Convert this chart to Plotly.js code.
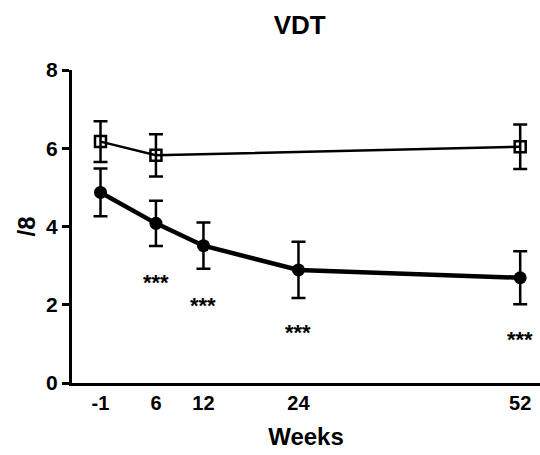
<!DOCTYPE html>
<html><head><meta charset="utf-8">
<script src="https://cdn.plot.ly/plotly-3.0.1.min.js"></script>
<style>html,body{margin:0;padding:0;background:#fff}#chart{width:540px;height:455px}</style>
</head><body><div id="chart"></div>
<script>
const weeks = [-1, 6, 12, 24, 52];
const controlWeeks = [-1, 6, 52];
const controlMean = [6.17, 5.82, 6.04];
const controlErr = [0.52, 0.54, 0.57];
const treatedMean = [4.87, 4.08, 3.51, 2.89, 2.69];
const treatedErr = [0.61, 0.58, 0.59, 0.72, 0.68];
const sigWeeks = [6, 12, 24, 52];
const sigLabel = ['***', '***', '***', '***'];
const sigY = [2.58, 1.99, 1.28, 1.12];
const tickLabels = ['-1', '6', '12', '24', '52'];

const font = 'Liberation Sans, Arial, sans-serif';
const traces = [
  {
    x: controlWeeks, y: controlMean, type: 'scatter', mode: 'lines+markers',
    line: {color: '#000', width: 2.5},
    marker: {symbol: 'square-open', size: 11, color: '#000', line: {width: 2.5, color: '#000'}},
    error_y: {type: 'data', array: controlErr, visible: true, color: '#000', thickness: 2.5, width: 7},
    cliponaxis: false, showlegend: false
  },
  {
    x: weeks, y: treatedMean, type: 'scatter', mode: 'lines+markers',
    line: {color: '#000', width: 4.5},
    marker: {symbol: 'circle', size: 13, color: '#000'},
    error_y: {type: 'data', array: treatedErr, visible: true, color: '#000', thickness: 2.5, width: 7},
    cliponaxis: false, showlegend: false
  }
];
const annotations = sigWeeks.map((w, i) => ({
  x: w, y: sigY[i], xref: 'x', yref: 'y', text: '<b>' + sigLabel[i] + '</b>', showarrow: false,
  font: {family: font, size: 22, color: '#000'}
}));
const layout = {
  width: 540, height: 455,
  margin: {l: 72, r: 0, t: 70, b: 72},
  paper_bgcolor: '#fff', plot_bgcolor: '#fff',
  title: {text: '<b>VDT</b>', x: 0.555, xanchor: 'center', y: 0.945, yanchor: 'middle', yref: 'container',
          font: {family: font, size: 26, color: '#000'}},
  xaxis: {
    range: [-4.6, 54.5], tickvals: weeks, ticktext: tickLabels.map(t => '<b>' + t + '</b>'),
    showgrid: false, zeroline: false, showline: true, linecolor: '#000', linewidth: 3,
    ticks: '', tickfont: {family: font, size: 20, color: '#000'},
    title: {text: '<b>Weeks</b>', font: {family: font, size: 24, color: '#000'}, standoff: 16}
  },
  yaxis: {
    range: [0, 8], tickvals: [0, 2, 4, 6, 8], ticktext: ['0','2','4','6','8'].map(t => '<b>' + t + '</b>'),
    showgrid: false, zeroline: false, showline: true, linecolor: '#000', linewidth: 3,
    ticks: 'outside', ticklen: 7, tickwidth: 3, tickcolor: '#000',
    tickfont: {family: font, size: 21, color: '#000'},
    title: {text: '<b>/8</b>', font: {family: font, size: 24, color: '#000'}, standoff: 4}
  },
  annotations: annotations
};
Plotly.newPlot('chart', traces, layout, {displayModeBar: false, staticPlot: true});
</script></body></html>
